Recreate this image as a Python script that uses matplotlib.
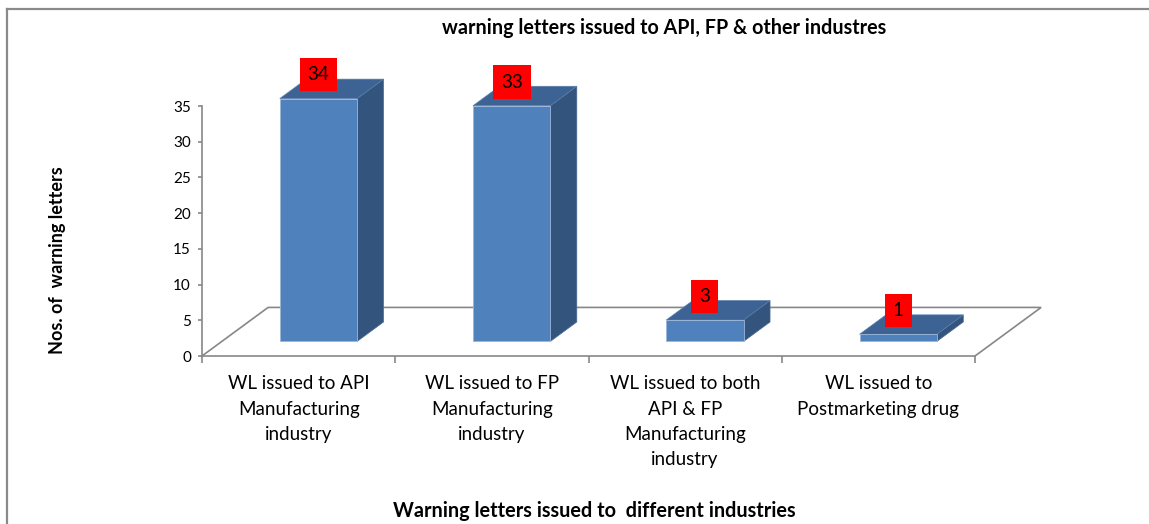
import matplotlib
matplotlib.use('Agg')
import matplotlib.pyplot as plt
from matplotlib.patches import Polygon
from matplotlib.lines import Line2D

plt.rcParams['font.family'] = ['Lato', 'DejaVu Sans']

### data
categories = ['WL issued to API\nManufacturing\nindustry',
              'WL issued to FP\nManufacturing\nindustry',
              'WL issued to both\nAPI & FP\nManufacturing\nindustry',
              'WL issued to\nPostmarketing drug']
counts = [34, 33, 3, 1]
y_ticks = [0, 5, 10, 15, 20, 25, 30, 35]

title = 'warning letters issued to API, FP & other industres'
xlabel = 'Warning letters issued to  different industries'
ylabel = 'Nos. of  warning letters'

### 3d look
depth_x = 0.342      # floor depth, x data units
depth_y = 6.8        # floor depth, y data units
f0, f1 = 0.30, 0.70  # bar position inside floor depth
bar_w = 0.40
front_c = '#4f81bd'
side_c = '#33547d'
top_c = '#3c6393'
grid_c = '#878787'

W, H = 1149, 524
fig = plt.figure(figsize=(W / 100, H / 100), dpi=100)
ax = fig.add_axes([202 / W, 1 - 356 / H, 773 / W, 250 / H])
n = len(counts)
ax.set_xlim(0, n)
ax.set_ylim(0, 35)

# floor
floor = [(0, 0), (depth_x, depth_y), (n + depth_x, depth_y), (n, 0)]
ax.add_patch(Polygon(floor, closed=False, fill=False, edgecolor=grid_c,
                     lw=1.2, clip_on=False, zorder=1))

# bars: side, top, front
for i, v in enumerate(counts):
    x0 = i + 0.5 - bar_w / 2 + f0 * depth_x
    y0 = f0 * depth_y
    ddx = (f1 - f0) * depth_x
    ddy = (f1 - f0) * depth_y
    x1 = x0 + bar_w
    y1 = y0 + v
    side = [(x1, y0), (x1 + ddx, y0 + ddy), (x1 + ddx, y1 + ddy), (x1, y1)]
    top = [(x0, y1), (x0 + ddx, y1 + ddy), (x1 + ddx, y1 + ddy), (x1, y1)]
    front = [(x0, y0), (x0, y1), (x1, y1), (x1, y0)]
    ax.add_patch(Polygon(side, facecolor=side_c, edgecolor='#4a6a96', lw=0.5,
                         clip_on=False, zorder=3))
    ax.add_patch(Polygon(top, facecolor=top_c, edgecolor='#5a7eaa', lw=0.5,
                         clip_on=False, zorder=3))
    ax.add_patch(Polygon(front, facecolor=front_c, edgecolor='#9db6d9', lw=0.6,
                         clip_on=False, zorder=4))
    # value label sits just above the back top edge
    ax.text(x0 + bar_w / 2, y1 + ddy + 0.6, str(v),
            ha='center', va='center', fontsize=13.5, color='black', zorder=6,
            bbox=dict(boxstyle='square,pad=0.43', facecolor='#ff0000',
                      edgecolor='none'), clip_on=False)

# axes styling
for s in ['top', 'right']:
    ax.spines[s].set_visible(False)
for s in ['left', 'bottom']:
    ax.spines[s].set_color(grid_c)
    ax.spines[s].set_linewidth(1.2)
ax.set_yticks(y_ticks)
ax.tick_params(axis='y', direction='out', length=3, width=1.2, color=grid_c,
               labelsize=11, pad=5)
ax.set_xticks(range(n + 1), minor=True)
ax.set_xticks([i + 0.5 for i in range(n)])
ax.set_xticklabels(categories, fontsize=13.5, linespacing=1.58)
ax.tick_params(axis='x', which='major', length=0, pad=14)
ax.tick_params(axis='x', which='minor', direction='out', length=5, width=1.2,
               color=grid_c)
ax.patch.set_visible(False)

fig.text(664 / W, 1 - 28 / H, title, ha='center', va='center',
         fontsize=14.2, fontweight='bold')
fig.text(594 / W, 1 - 511 / H, xlabel, ha='center', va='center',
         fontsize=14.3, fontweight='bold')
fig.text(57 / W, 1 - 260 / H, ylabel, ha='center', va='center',
         rotation=90, fontsize=13, fontweight='bold')

# chart frame
fig.add_artist(Line2D([7 / W, 7 / W], [0, 1 - 9 / H], color='#8a8a8a', lw=1.6))
fig.add_artist(Line2D([7 / W, 1], [1 - 9 / H, 1 - 9 / H], color='#8a8a8a', lw=1.6))

fig.savefig('out.png', dpi=100)
